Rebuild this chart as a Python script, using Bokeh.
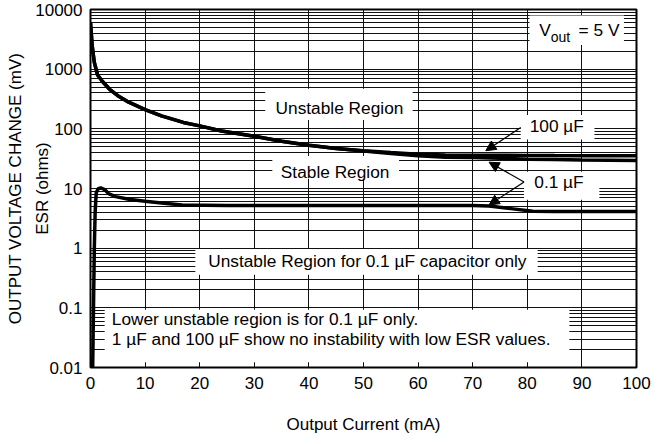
import numpy as np
from bokeh.plotting import figure
from bokeh.models import FixedTicker, Label, Arrow, NormalHead, Range1d
from bokeh.embed import file_html
from bokeh.resources import INLINE

# ---------------- data ----------------
x_ticks = [0, 10, 20, 30, 40, 50, 60, 70, 80, 90, 100]
y_ticks = [0.01, 0.1, 1, 10, 100, 1000, 10000]
y_tick_labels = ["0.01", "0.1", "1", "10", "100", "1000", "10000"]

# upper boundary curves (shared x)
upper_x = [0, 0.3, 0.7, 1.3, 2.2, 3.5, 5, 7, 10, 13, 17, 20, 24, 30, 35, 40,
           45, 50, 55, 60, 65, 70, 75, 80, 85, 90, 95, 100]
esr_100uF = [6000, 2500, 1300, 800, 620, 460, 360, 280, 210, 165, 128, 112, 92,
             75, 62, 53, 47, 43, 40, 37.5, 36.5, 36, 36, 35.8, 35.6, 35.5, 35.5, 35.5]
esr_01uF_upper = [6000, 2500, 1300, 800, 620, 460, 360, 280, 210, 165, 128, 112, 92,
                  75, 62, 53, 47, 42.5, 38.5, 35.5, 33.5, 33, 32, 31, 30.5, 30, 29.8, 29.5]

# lower boundary curve of 0.1 uF
lower_x = [0.4, 0.55, 0.7, 0.85, 1.05, 1.4, 1.9, 2.6, 3.3, 4.6, 7, 10, 13, 16.8,
           25, 35, 45, 55, 65, 70, 73, 77, 81, 85, 90, 95, 100]
esr_01uF_lower = [0.01, 0.1, 1, 4, 8.5, 9.9, 10.2, 9.6, 8.2, 7.3, 6.6, 6.1, 5.7, 5.3,
                  5.2, 5.2, 5.2, 5.2, 5.2, 5.2, 5.1, 4.6, 4.15, 4.1, 4.1, 4.1, 4.1]

FONT = "'Liberation Sans', Arial, sans-serif"
TXT = "17.3px"

minor = [m * 10.0 ** d for d in range(-2, 4) for m in range(2, 10)]

p = figure(frame_width=546, frame_height=358,
           min_border_left=90, min_border_right=19, min_border_top=9, min_border_bottom=61,
           y_axis_type="log", x_range=Range1d(0, 100), y_range=Range1d(0.01, 10000),
           output_backend="svg", toolbar_location=None)
p.background_fill_color = "white"
p.border_fill_color = "white"
p.outline_line_color = "black"
p.outline_line_width = 2

p.xaxis.ticker = FixedTicker(ticks=x_ticks)
p.yaxis.ticker = FixedTicker(ticks=y_ticks, minor_ticks=minor)
p.xgrid.ticker = FixedTicker(ticks=x_ticks)
p.ygrid.ticker = FixedTicker(ticks=y_ticks, minor_ticks=minor)
p.yaxis.major_label_overrides = {t: l for t, l in zip(y_ticks, y_tick_labels)}

for g in (p.xgrid, p.ygrid):
    g.grid_line_color = "#111111"
    g.grid_line_width = 1
    g.grid_line_alpha = 1
p.ygrid.minor_grid_line_color = "#111111"
p.ygrid.minor_grid_line_width = 1

for ax in (p.xaxis, p.yaxis):
    ax.axis_line_color = None
    ax.major_tick_line_color = None
    ax.minor_tick_line_color = None
    ax.major_tick_out = 0
    ax.minor_tick_out = 0
    ax.major_label_text_font = FONT
    ax.major_label_text_font_size = "17px"
    ax.major_label_text_color = "black"
    ax.axis_label_text_font = FONT
    ax.axis_label_text_font_size = "17px"
    ax.axis_label_text_font_style = "normal"
    ax.axis_label_text_color = "black"
p.yaxis.major_label_standoff = 8
p.xaxis.major_label_standoff = 9
p.xaxis.axis_label = "Output Current (mA)"
p.xaxis.axis_label_standoff = 23
p.yaxis.axis_label = "OUTPUT VOLTAGE CHANGE (mV)\nESR (ohms)"
p.yaxis.axis_label_text_line_height = 1.45
p.yaxis.axis_label_standoff = -20

# white label backgrounds (cover grid)
boxes = [
    (80.4, 97.7, 2530, 7900),     # Vout
    (32.0, 59.0, 140, 470),       # Unstable Region
    (33.3, 56.5, 14.6, 35),       # Stable Region
    (78.8, 92.3, 66, 170),        # 100 uF
    (79.4, 93.2, 6.5, 19),        # 0.1 uF
    (19.2, 81.9, 0.36, 0.97),     # Unstable Region for 0.1 uF
    (2.6, 87.7, 0.0122, 0.093),   # lower note
]
p.quad(left=[b[0] for b in boxes], right=[b[1] for b in boxes],
       bottom=[b[2] for b in boxes], top=[b[3] for b in boxes],
       fill_color="white", line_color=None)

# curves
p.line(upper_x, esr_01uF_upper, line_color="black", line_width=3.5)
p.line(upper_x, esr_100uF, line_color="black", line_width=3.5)
p.line(lower_x, esr_01uF_lower, line_color="black", line_width=3.5)

def lab(x, y, text, size=TXT, align="center", baseline="middle"):
    p.add_layout(Label(x=x, y=y, text=text, text_font=FONT, text_font_size=size,
                       text_align=align, text_baseline=baseline, text_color="black"))

lab(45.6, 220, "Unstable Region")
lab(44.8, 18.8, "Stable Region")
lab(85.4, 110, "100 µF")
lab(85.8, 12.9, "0.1 µF")
lab(50.7, 0.61, "Unstable Region for 0.1 µF capacitor only")
lab(3.9, 0.064, "Lower unstable region is for 0.1 µF only.", align="left")
lab(3.9, 0.030, "1 µF and 100 µF show no instability with low ESR values.", align="left")
lab(82.2, 4490, "V", align="left", baseline="alphabetic")
lab(84.3, 3475, "out", size="14px", align="left", baseline="alphabetic")
lab(89.4, 4490, "= 5 V", align="left", baseline="alphabetic")

# arrows
def arrow(x0, y0, x1, y1):
    p.add_layout(Arrow(end=NormalHead(size=10, fill_color="black", line_color="black", line_width=1),
                       x_start=x0, y_start=y0, x_end=x1, y_end=y1,
                       line_color="black", line_width=1.2))

arrow(78.8, 105, 72.4, 43)
arrow(79.4, 12.9, 73.0, 27.6)
arrow(79.4, 12.9, 73.0, 5.3)

open("out.html", "w").write(file_html(p, INLINE))
